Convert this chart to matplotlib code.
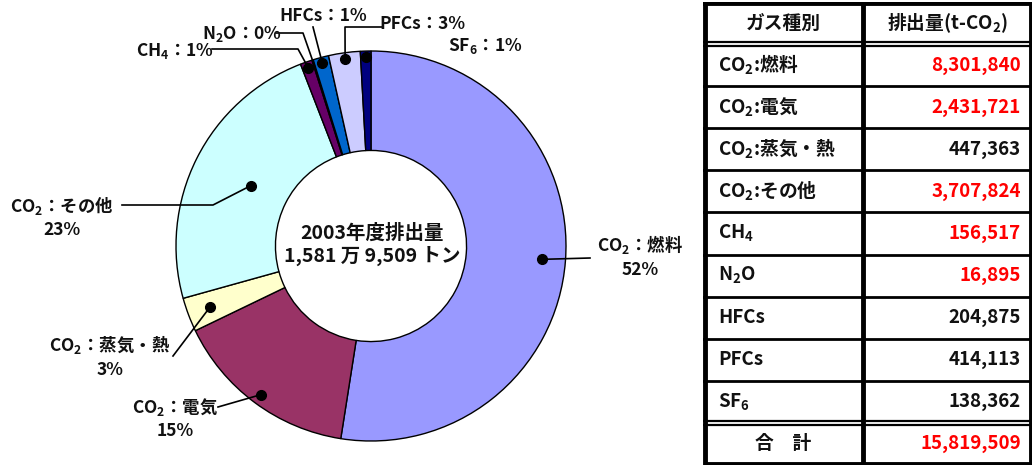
# 2003年度 温室効果ガス排出量 (ドーナツ図 + 表)
import numpy as np
import matplotlib
matplotlib.use("Agg")
import matplotlib.pyplot as plt

plt.rcParams['font.family'] = ['Noto Sans CJK JP', 'DejaVu Sans']
plt.rcParams['mathtext.fontset'] = 'custom'
plt.rcParams['mathtext.rm'] = 'Noto Sans CJK JP'
plt.rcParams['mathtext.bf'] = 'Noto Sans CJK JP:bold'

# data
gas_names = ["CO$_\\mathbf{2}$：燃料", "CO$_\\mathbf{2}$：電気", "CO$_\\mathbf{2}$：蒸気・熱",
             "CO$_\\mathbf{2}$：その他", "CH$_\\mathbf{4}$", "N$_\\mathbf{2}$O", "HFCs", "PFCs",
             "SF$_\\mathbf{6}$"]
table_names = ["CO$_\\mathbf{2}$:燃料", "CO$_\\mathbf{2}$:電気", "CO$_\\mathbf{2}$:蒸気・熱",
               "CO$_\\mathbf{2}$:その他", "CH$_\\mathbf{4}$", "N$_\\mathbf{2}$O", "HFCs", "PFCs",
               "SF$_\\mathbf{6}$"]
emissions = [8301840, 2431721, 447363, 3707824, 156517, 16895, 204875, 414113, 138362]
red_value = [True, True, False, True, True, True, False, False, False]
total = 15819509
colors = ["#9999FF", "#993366", "#FFFFCC", "#CCFFFF", "#660066",
          "#FF8080", "#0066CC", "#CCCCFF", "#000080"]

pct = [round(v / sum(emissions) * 100) for v in emissions]

fig = plt.figure(figsize=(10.32, 4.67), dpi=100)

# ---- donut ----
R = 195.0
cx, cy = 371, 246          # pie centre in pixels (from top-left)
ax = fig.add_axes([0, 0, 700 / 1032, 1])

def P(px, py):
    # pixel -> data coords
    return ((px - cx) / R, (cy - py) / R)

wedges, _ = ax.pie(emissions, colors=colors, startangle=90, counterclock=False,
                   radius=1.0, wedgeprops=dict(width=0.51, edgecolor="black", linewidth=1.0))
ax.set_aspect("auto")
ax.set_xlim(-cx / R, (700 - cx) / R)
ax.set_ylim((cy - 467) / R, cy / R)
ax.axis("off")

ax.text(*P(372, 245), "2003年度排出量\n1,581 万 9,509 トン", ha="center", va="center",
        fontsize=14, fontweight="bold", color="#111111", linespacing=1.2)

# label layout: dot radius, text, text position, elbow points of the leader
dot_r = [0.88, 0.95, 0.88, 0.69, 0.97, None, 0.97, 0.97, 0.97]
labels = [
    (gas_names[0] + "\n%d%%" % pct[0], (640, 256), [(590, 258)]),
    (gas_names[1] + "\n%d%%" % pct[1], (175, 418), [(218, 407)]),
    (gas_names[2] + "\n%d%%" % pct[2], (110, 356), [(173, 356)]),
    (gas_names[3] + "\n%d%%" % pct[3], (62, 217), [(213, 205), (122, 205)]),
    (gas_names[4] + "：%d%%" % pct[4], (175, 51), [(298, 49), (212, 49)]),
    (gas_names[5] + "：%d%%" % pct[5], (242, 34), [(303, 33), (276, 33)]),
    (gas_names[6] + "：%d%%" % pct[6], (323, 16), [(313, 27)]),
    (gas_names[7] + "：%d%%" % pct[7], (422, 24), [(345, 27), (382, 27)]),
    (gas_names[8] + "：%d%%" % pct[8], (485, 46), []),
]

for w, r, (txt, tp, elbows) in zip(wedges, dot_r, labels):
    ang = np.deg2rad((w.theta1 + w.theta2) / 2)
    ax.text(*P(*tp), txt, ha="center", va="center",
            fontsize=12.5, fontweight="bold", color="#111111", linespacing=1.3,
            multialignment="center")
    if r is None:
        # no dot, leader just touches the wedge
        start = (np.cos(ang) * 0.97, np.sin(ang) * 0.97)
    else:
        start = (r * np.cos(ang), r * np.sin(ang))
        ax.plot(*start, "o", color="black", ms=7)
    if elbows:
        pts = [start] + [P(*e) for e in elbows]
        ax.plot([p[0] for p in pts], [p[1] for p in pts], color="black", lw=1.2)

# ---- table ----
tx = fig.add_axes([703 / 1032, 2 / 467, 329 / 1032, 463 / 467])
n_rows = len(table_names) + 2
tx.set_xlim(0, 329)
tx.set_ylim(n_rows, 0)
tx.axis("off")

col_split = 160
for i in range(1, n_rows):
    if i == 1 or i == n_rows - 1:
        tx.axhline(i - 0.045, color="black", lw=1.6)
        tx.axhline(i + 0.045, color="black", lw=1.6)
    else:
        tx.axhline(i, color="black", lw=2.0)
tx.axvline(col_split, color="black", lw=3.5)
tx.plot([1.5, 327.5, 327.5, 1.5, 1.5], [0.02, 0.02, n_rows - 0.02, n_rows - 0.02, 0.02],
        color="black", lw=3.5, solid_joinstyle="miter")

fs = 13.5
tx.text(80, 0.5, "ガス種別", ha="center", va="center", fontsize=fs, fontweight="bold", color="#111111")
tx.text(244, 0.5, "排出量(t-CO$_\\mathbf{2}$)", ha="center", va="center", fontsize=fs,
        fontweight="bold", color="#111111")
for i, (nm, v, red) in enumerate(zip(table_names, emissions, red_value)):
    y = i + 1.5
    tx.text(15, y, nm, ha="left", va="center", fontsize=fs, fontweight="bold", color="#111111")
    tx.text(318, y, f"{v:,}", ha="right", va="center", fontsize=fs, fontweight="bold",
            color="#FF0000" if red else "#111111")
tx.text(80, n_rows - 0.5, "合　計", ha="center", va="center", fontsize=fs, fontweight="bold", color="#111111")
tx.text(318, n_rows - 0.5, f"{total:,}", ha="right", va="center", fontsize=fs, fontweight="bold", color="#FF0000")

fig.savefig("out.png", dpi=100)
